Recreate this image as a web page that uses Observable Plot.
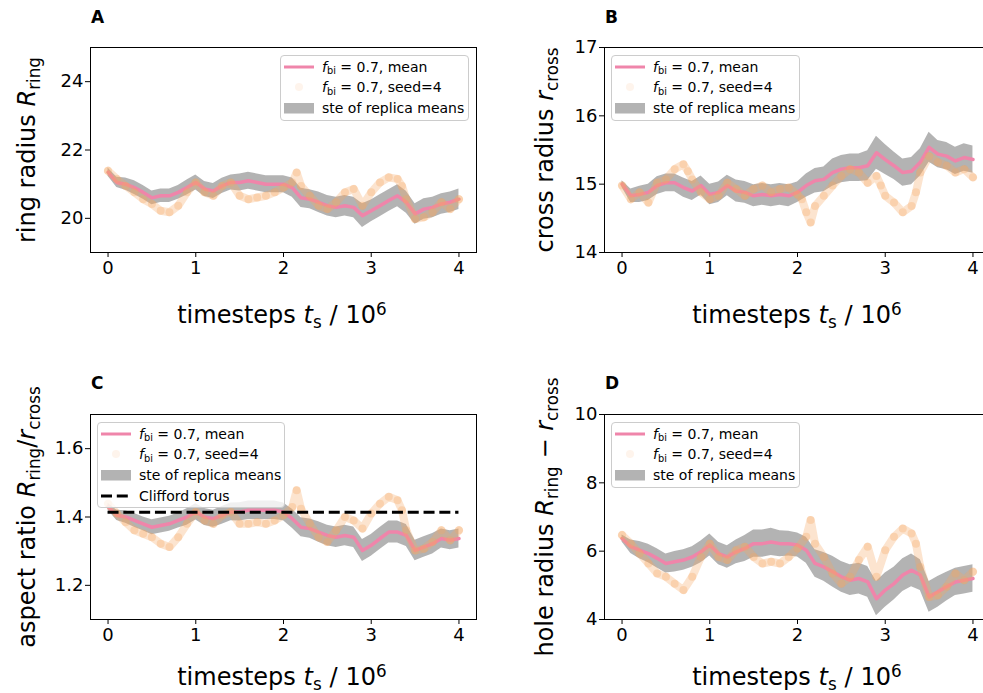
<!DOCTYPE html>
<html><head><meta charset="utf-8">
<script src="https://cdn.jsdelivr.net/npm/d3@7"></script>
<script src="https://cdn.jsdelivr.net/npm/@observablehq/plot@0.6"></script>
<style>
html,body{margin:0;padding:0;background:#fff;overflow:hidden;}
#fig{position:relative;width:983px;height:693px;overflow:hidden;font-family:"DejaVu Sans",sans-serif;color:#000;background:#fff;}
.panel{position:absolute;}
.lbl{position:absolute;font-size:24px;white-space:nowrap;line-height:24px;}
.ylbl{transform:translate(-50%,-50%) rotate(-90deg);}
.xlbl{transform:translateX(-50%);}
.letter{position:absolute;font-weight:bold;font-size:17px;line-height:17px;}
.legend{position:absolute;border:1px solid #cccccc;border-radius:4px;background:rgba(255,255,255,0.8);font-size:14px;box-sizing:border-box;}
.row{position:absolute;white-space:nowrap;line-height:14px;}
.sub{font-size:70%;position:relative;top:0.28em;line-height:0;}
.sup{font-size:70%;position:relative;top:-0.5em;line-height:0;}
.handle{position:absolute;}
</style>
</head><body>
<div id="fig"></div>
<script>
// ---------------- data ----------------
const timeMean = [0,0.1,0.2,0.3,0.4,0.5,0.6,0.7,0.8,0.9,1.0,1.1,1.2,1.3,1.4,1.5,1.6,1.7,1.8,1.9,2.0,
  2.1,2.2,2.3,2.4,2.5,2.6,2.7,2.8,2.9,3.0,3.1,3.2,3.3,3.4,3.5,3.6,3.7,3.8,3.9,4.0];

// Panel A: ring radius
const ringMean = [21.35,21.05,21.0,20.9,20.76,20.6,20.66,20.66,20.76,20.9,21.05,20.86,20.8,20.95,21.05,21.05,21.1,21.05,21.0,21.0,21.0,
  20.9,20.6,20.56,20.47,20.37,20.32,20.37,20.32,20.08,20.22,20.37,20.52,20.66,20.47,20.13,20.27,20.32,20.42,20.47,20.56];
const ringSte = [0.12,0.15,0.18,0.2,0.2,0.2,0.2,0.2,0.2,0.22,0.22,0.22,0.22,0.22,0.22,0.25,0.25,0.25,0.25,0.25,0.25,
  0.28,0.28,0.28,0.3,0.3,0.3,0.3,0.3,0.35,0.32,0.32,0.32,0.32,0.32,0.3,0.3,0.3,0.3,0.3,0.3];
const ringSeedTime = [0,0.1,0.2,0.3,0.4,0.5,0.6,0.7,0.8,0.9,1.0,1.1,1.2,1.3,1.4,1.5,1.6,1.7,1.8,1.9,2.0,2.1,2.15,
  2.2,2.3,2.4,2.5,2.6,2.7,2.8,2.9,3.0,3.1,3.2,3.3,3.35,3.4,3.5,3.6,3.7,3.8,3.9,4.0];
const ringSeed = [21.39,21.15,20.95,20.76,20.56,20.42,20.22,20.18,20.37,20.76,21.05,20.76,20.66,20.95,21.05,20.66,20.56,20.61,20.66,20.76,20.9,21.05,21.34,
  20.95,20.66,20.37,20.27,20.47,20.76,20.86,20.37,20.76,21.05,21.2,21.15,20.95,20.56,19.98,20.03,20.18,20.47,20.27,20.56];

// Panel B: cross radius
const crossMean = [15.0,14.83,14.85,14.88,14.98,15.02,15.02,14.95,14.9,14.98,14.85,14.88,14.98,14.9,14.88,14.83,14.85,14.83,14.85,14.83,14.88,
  14.98,15.05,15.07,15.17,15.22,15.24,15.24,15.27,15.46,15.36,15.27,15.17,15.19,15.32,15.54,15.44,15.41,15.34,15.39,15.36];
const crossSte = [0.05,0.1,0.12,0.12,0.13,0.13,0.13,0.14,0.14,0.14,0.15,0.15,0.15,0.16,0.16,0.16,0.16,0.16,0.16,0.16,0.15,
  0.17,0.18,0.18,0.2,0.2,0.2,0.2,0.22,0.24,0.22,0.2,0.2,0.2,0.2,0.22,0.2,0.2,0.2,0.2,0.2];
const crossSeedTime = [0,0.1,0.2,0.3,0.4,0.5,0.6,0.7,0.75,0.8,0.9,1.0,1.1,1.2,1.3,1.4,1.5,1.6,1.7,1.8,1.9,2.0,2.05,2.1,2.15,
  2.2,2.3,2.4,2.5,2.6,2.7,2.8,2.9,2.95,3.0,3.1,3.2,3.3,3.35,3.4,3.5,3.6,3.7,3.8,3.9,4.0];
const crossSeed = [14.98,14.78,14.88,14.73,15.02,15.07,15.22,15.29,15.19,15.07,14.88,14.78,14.83,15.02,14.93,14.83,14.93,14.98,14.88,14.93,14.95,14.85,14.78,14.59,14.44,
  14.68,14.83,14.98,15.12,15.22,15.17,15.02,15.12,14.98,14.83,14.73,14.59,14.68,14.88,15.17,15.41,15.32,15.27,15.17,15.22,15.1];

// Panel C: aspect ratio
const ratioMean = [1.43,1.405,1.4,1.39,1.38,1.37,1.375,1.38,1.39,1.4,1.415,1.4,1.395,1.405,1.415,1.415,1.42,1.42,1.42,1.42,1.415,
  1.395,1.37,1.366,1.356,1.346,1.341,1.346,1.341,1.302,1.317,1.337,1.356,1.356,1.346,1.302,1.312,1.322,1.337,1.332,1.337];
const ratioSte = [0.01,0.015,0.018,0.02,0.02,0.022,0.022,0.022,0.022,0.024,0.024,0.025,0.025,0.026,0.026,0.027,0.027,0.027,0.027,0.027,0.026,
  0.028,0.028,0.028,0.03,0.03,0.03,0.03,0.03,0.032,0.032,0.032,0.032,0.032,0.032,0.03,0.03,0.03,0.028,0.028,0.028];
const ratioSeedTime = ringSeedTime;
const ratioSeed = [1.439,1.41,1.385,1.361,1.351,1.341,1.322,1.312,1.341,1.38,1.415,1.39,1.38,1.405,1.415,1.38,1.38,1.385,1.38,1.39,1.405,1.429,1.478,
  1.424,1.38,1.341,1.327,1.361,1.4,1.39,1.366,1.41,1.439,1.459,1.449,1.42,1.361,1.302,1.307,1.327,1.361,1.332,1.361];
const cliffordRatio = [1.4142];

// Panel D: hole radius
const holeMean = [6.37,6.13,6.03,5.93,5.79,5.64,5.69,5.74,5.83,5.98,6.18,5.93,5.83,5.98,6.08,6.22,6.22,6.27,6.22,6.22,6.18,
  6.03,5.64,5.54,5.4,5.25,5.15,5.2,5.1,4.61,4.86,5.05,5.3,5.44,5.3,4.66,4.81,4.96,5.1,5.15,5.2];
const holeSte = [0.1,0.2,0.25,0.27,0.28,0.28,0.3,0.3,0.3,0.32,0.32,0.33,0.33,0.35,0.38,0.4,0.4,0.4,0.38,0.36,0.35,
  0.38,0.4,0.42,0.45,0.45,0.45,0.45,0.45,0.5,0.5,0.48,0.48,0.48,0.45,0.45,0.45,0.42,0.4,0.4,0.4];
const holeSeedTime = ringSeedTime;
const holeSeed = [6.47,6.22,5.93,5.64,5.35,5.25,5.05,4.86,5.25,5.83,6.22,5.83,5.74,6.03,6.13,5.83,5.64,5.69,5.64,5.83,6.08,6.42,6.91,
  6.22,5.83,5.35,5.05,5.25,5.74,6.13,5.25,6.03,6.42,6.66,6.52,6.22,5.54,4.66,4.71,4.96,5.35,5.15,5.4];

const xTicks = [0,1,2,3,4];

// ---------------- drawing ----------------
const fig = document.getElementById("fig");
const COL_MEAN = "#ef85aa", COL_SEED = "#f4a460", COL_BAND = "#808080";

function panel(o){
  const band = o.mean.map((v,i)=>({t: timeMean[i], v, lo: v - o.ste[i], hi: v + o.ste[i]}));
  const seed = o.seedT.map((t,i)=>({t, v: o.seed[i]}));
  const W = 386, H = 205, ML = 60, MR = 10, MT = 10, MB = 40;
  const marks = [
    Plot.areaY(band, {x:"t", y1:"lo", y2:"hi", fill:COL_BAND, fillOpacity:0.6}),
    Plot.line(band, {x:"t", y:"v", stroke:COL_MEAN, strokeWidth:3.5}),
    Plot.line(seed, {x:"t", y:"v", stroke:COL_SEED, strokeOpacity:0.3, strokeWidth:8, strokeLinecap:"round", strokeLinejoin:"round"}),
    Plot.dot(seed, {x:"t", y:"v", r:4, fill:COL_SEED, fillOpacity:0.3}),
  ];
  if (o.extra) marks.push(...o.extra);
  marks.push(Plot.frame({stroke:"black", strokeWidth:1}));
  const svg = Plot.plot({
    width: W + ML + MR, height: H + MT + MB,
    marginLeft: ML, marginRight: MR, marginTop: MT, marginBottom: MB,
    x: {domain: [-0.2, 4.2], ticks: xTicks, tickSize: 5, tickPadding: 4, label: null, tickFormat: d => String(d)},
    y: {domain: o.ydom, ticks: o.yticks, tickSize: 5, tickPadding: 2, label: null, tickFormat: o.fmt},
    style: {fontSize: "18px", fontFamily: "DejaVu Sans", color: "black", background: "transparent", overflow: "visible"},
    marks
  });
  svg.classList.add("panel");
  svg.style.left = (o.left - ML) + "px";
  svg.style.top = (o.top - MT) + "px";
  fig.appendChild(svg);
}

panel({left:89.5, top:47, mean:ringMean, ste:ringSte, seedT:ringSeedTime, seed:ringSeed,
  ydom:[19,25], yticks:[20,22,24], fmt:d=>String(d)});
panel({left:603.5, top:47, mean:crossMean, ste:crossSte, seedT:crossSeedTime, seed:crossSeed,
  ydom:[14,17], yticks:[14,15,16,17], fmt:d=>String(d)});
panel({left:89.5, top:414, mean:ratioMean, ste:ratioSte, seedT:ratioSeedTime, seed:ratioSeed,
  ydom:[1.1,1.7], yticks:[1.2,1.4,1.6], fmt:d=>d.toFixed(1),
  extra:[Plot.ruleY(cliffordRatio, {x1:0, x2:4, stroke:"black", strokeWidth:3, strokeDasharray:"11,4.8"})]});
panel({left:603.5, top:414, mean:holeMean, ste:holeSte, seedT:holeSeedTime, seed:holeSeed,
  ydom:[4,10], yticks:[4,6,8,10], fmt:d=>String(d)});

// ---------------- text ----------------
function add(cls, html, css){
  const d = document.createElement("div");
  d.className = cls; d.innerHTML = html;
  Object.assign(d.style, css);
  fig.appendChild(d);
  return d;
}
const xl = 'timesteps <i>t</i><span class="sub">s</span>&#8196;/&#8196;10<span class="sup">6</span>';
add("lbl xlbl", xl, {left:"282px", top:"303px"});
add("lbl xlbl", xl, {left:"797px", top:"303px"});
add("lbl xlbl", xl, {left:"282px", top:"665px"});
add("lbl xlbl", xl, {left:"797px", top:"665px"});

add("lbl ylbl", 'ring radius <i>R</i><span class="sub">ring</span>', {left:"27px", top:"150px"});
add("lbl ylbl", 'cross radius <i>r</i><span class="sub">cross</span>', {left:"545px", top:"150px"});
add("lbl ylbl", 'aspect ratio <i>R</i><span class="sub">ring</span>/<i>r</i><span class="sub">cross</span>', {left:"27px", top:"517px"});
add("lbl ylbl", 'hole radius <i>R</i><span class="sub">ring</span> &#8722; <i>r</i><span class="sub">cross</span>', {left:"545px", top:"517px"});

add("letter", "A", {left:"91px", top:"9px"});
add("letter", "B", {left:"605px", top:"9px"});
add("letter", "C", {left:"91px", top:"375px"});
add("letter", "D", {left:"605px", top:"375px"});

// ---------------- legends ----------------
const fbi = '<i>f</i><span class="sub">bi</span> = 0.7';
const legendItems = [
  {kind:"line", text: fbi + ', mean'},
  {kind:"dot", text: fbi + ', seed=4'},
  {kind:"rect", text: 'ste of replica means'},
  {kind:"dash", text: 'Clifford torus'}
];
function legend(left, top, w, n){
  const box = add("legend", "", {left:left+"px", top:top+"px", width:w+"px", height:(n*20.7+3.5)+"px"});
  for (let i = 0; i < n; i++){
    const it = legendItems[i];
    const cy = 11.5 + i*20.7;
    let sw = "";
    if (it.kind === "line") sw = `<line x1="0" x2="30" y1="6" y2="6" stroke="${COL_MEAN}" stroke-width="3"/>`;
    if (it.kind === "dot") sw = `<circle cx="15" cy="6" r="4" fill="${COL_SEED}" fill-opacity="0.12"/>`;
    if (it.kind === "rect") sw = `<rect x="0" y="1" width="30" height="10.5" fill="${COL_BAND}" fill-opacity="0.6"/>`;
    if (it.kind === "dash") sw = `<line x1="0" x2="30" y1="6" y2="6" stroke="black" stroke-width="3" stroke-dasharray="11,4.8"/>`;
    const h = document.createElement("div");
    h.className = "handle";
    h.style.left = "3px"; h.style.top = (cy - 6 - 1) + "px";
    h.innerHTML = `<svg width="30" height="12" style="display:block">${sw}</svg>`;
    box.appendChild(h);
    const r = document.createElement("div");
    r.className = "row";
    r.style.left = "41px"; r.style.top = (cy - 7 - 1) + "px";
    r.innerHTML = it.text;
    box.appendChild(r);
  }
}
legend(280, 55, 189, 3);
legend(611, 55, 189, 3);
legend(97, 422, 188, 4);
legend(611, 422, 189, 3);
</script>
</body></html>
